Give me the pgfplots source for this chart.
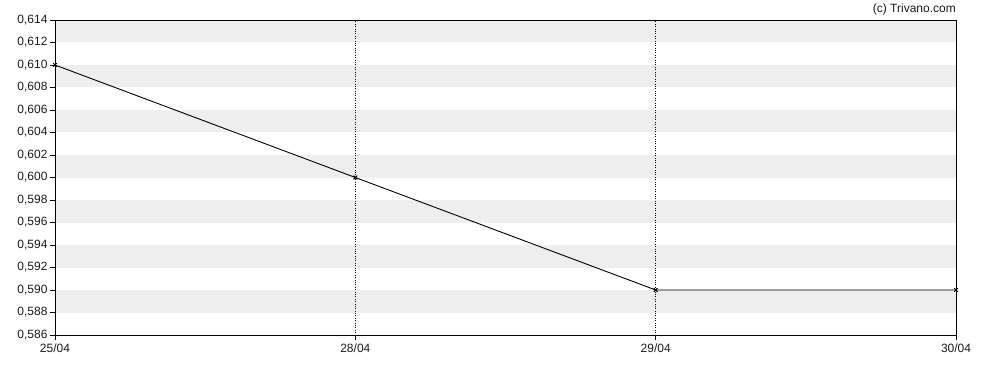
\documentclass[border=0pt]{standalone}
\usepackage{fontspec}
\setmainfont{Liberation Sans}
\usepackage{pgfplots}
\pgfplotsset{compat=1.18}
\definecolor{band}{HTML}{EEEEEE}
\definecolor{txt}{HTML}{1A1A1A}
\begin{document}
\begin{tikzpicture}[x=1bp,y=1bp]
\path (0,0) rectangle (988,370);
\begin{axis}[
  name=main,
  set layers,
  at={(55bp,35bp)}, anchor=south west,
  scale only axis, width=901bp, height=315bp,
  xmin=0, xmax=3, ymin=0.586, ymax=0.614,
  xtick={0,1,2,3}, xticklabels={25/04,28/04,29/04,30/04},
  ytick={0.586,0.588,0.590,0.592,0.594,0.596,0.598,0.600,0.602,0.604,0.606,0.608,0.610,0.612,0.614},
  axis line style={black, line width=0.8bp},
  tick style={black, line width=0.8bp},
  tick align=outside, major tick length=5bp,
  xtick pos=bottom, ytick pos=left,
  xmajorgrids, major grid style={black, dotted, line width=0.7bp},
  ticklabel style={font=\fontsize{12bp}{14bp}\selectfont, text=txt},
  yticklabel style={xshift=1bp},
  /pgf/number format/assume math mode=true,
  yticklabel style={/pgf/number format/.cd, fixed, fixed zerofill, precision=3, use comma},
  scaled y ticks=false,
]
\begin{pgfonlayer}{axis background}
\fill[band] (axis cs:0,0.588) rectangle (axis cs:3,0.590);
\fill[band] (axis cs:0,0.592) rectangle (axis cs:3,0.594);
\fill[band] (axis cs:0,0.596) rectangle (axis cs:3,0.598);
\fill[band] (axis cs:0,0.600) rectangle (axis cs:3,0.602);
\fill[band] (axis cs:0,0.604) rectangle (axis cs:3,0.606);
\fill[band] (axis cs:0,0.608) rectangle (axis cs:3,0.610);
\fill[band] (axis cs:0,0.612) rectangle (axis cs:3,0.614);
\end{pgfonlayer}
\addplot[black, line width=0.9bp, mark=x, mark size=2.6bp, mark options={line width=1bp}]
  coordinates {(0,0.610) (1,0.600) (2,0.590) (3,0.590)};
\end{axis}
\node[anchor=base east, font=\fontsize{12bp}{14bp}\selectfont, text=txt, inner sep=0pt]
  at ([yshift=7bp]main.north east) {(c) Trivano.com};
\end{tikzpicture}
\end{document}
